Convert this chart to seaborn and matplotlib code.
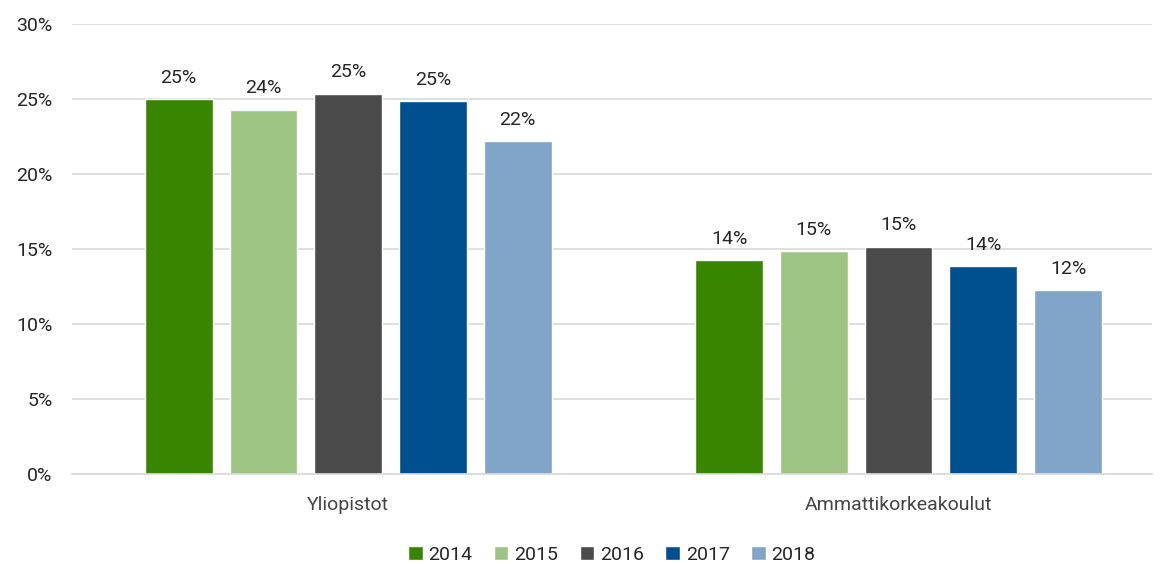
import pandas as pd
import numpy as np
import matplotlib.pyplot as plt
import seaborn as sns
from matplotlib.ticker import PercentFormatter

sektorit = ['Yliopistot', 'Ammattikorkeakoulut']
vuodet = ['2014', '2015', '2016', '2017', '2018']
yliopistot = [25.0, 24.3, 25.35, 24.85, 22.2]
amk = [14.25, 14.85, 15.15, 13.85, 12.25]
varit = ['#388500', '#9dc483', '#4b4b4b', '#004f8f', '#80a5c9']

df = pd.DataFrame({
    'sektori': [s for s in sektorit for _ in vuodet],
    'vuosi': vuodet * 2,
    'osuus': yliopistot + amk,
})

sns.set_style('white')
plt.rcParams['font.family'] = ['Roboto', 'DejaVu Sans']
plt.rcParams['font.size'] = 14

fig, ax = plt.subplots(figsize=(11.61, 5.64), dpi=100)
sns.barplot(data=df, x='sektori', y='osuus', hue='vuosi', palette=varit,
            width=0.77, gap=0.2, ax=ax, legend=True, saturation=1)

for c in ax.containers:
    ax.bar_label(c, labels=[f'{v:.0f}%' for v in c.datavalues], padding=9,
                 fontsize=14, color='#262626')

ax.set_ylim(0, 30)
ax.set_xlim(-0.502, 1.46)
ax.set_yticks(np.arange(0, 31, 5))
ax.yaxis.set_major_formatter(PercentFormatter(decimals=0))
ax.grid(axis='y', color='#d9d9d9', linewidth=1.2)
ax.set_axisbelow(True)
for s in ['top', 'right', 'left']:
    ax.spines[s].set_visible(False)
ax.spines['bottom'].set_color('#d9d9d9')
ax.spines['bottom'].set_linewidth(1.2)
ax.tick_params(axis='both', length=0, labelsize=14, labelcolor='#262626')
ax.tick_params(axis='x', pad=16, labelcolor='#444444')
ax.tick_params(axis='y', pad=14)
ax.set_xlabel('')
ax.set_ylabel('')

h, l = ax.get_legend_handles_labels()
leg = ax.legend(h, l, loc='center', bbox_to_anchor=(0.5, -0.18), ncol=5,
                frameon=False, fontsize=14, handlelength=0.75, handleheight=0.75,
                handletextpad=0.3, columnspacing=1.1)
for t in leg.get_texts():
    t.set_color('#262626')

plt.subplots_adjust(left=0.062, right=0.992, top=0.957, bottom=0.16)
plt.savefig('out.png', dpi=100)
